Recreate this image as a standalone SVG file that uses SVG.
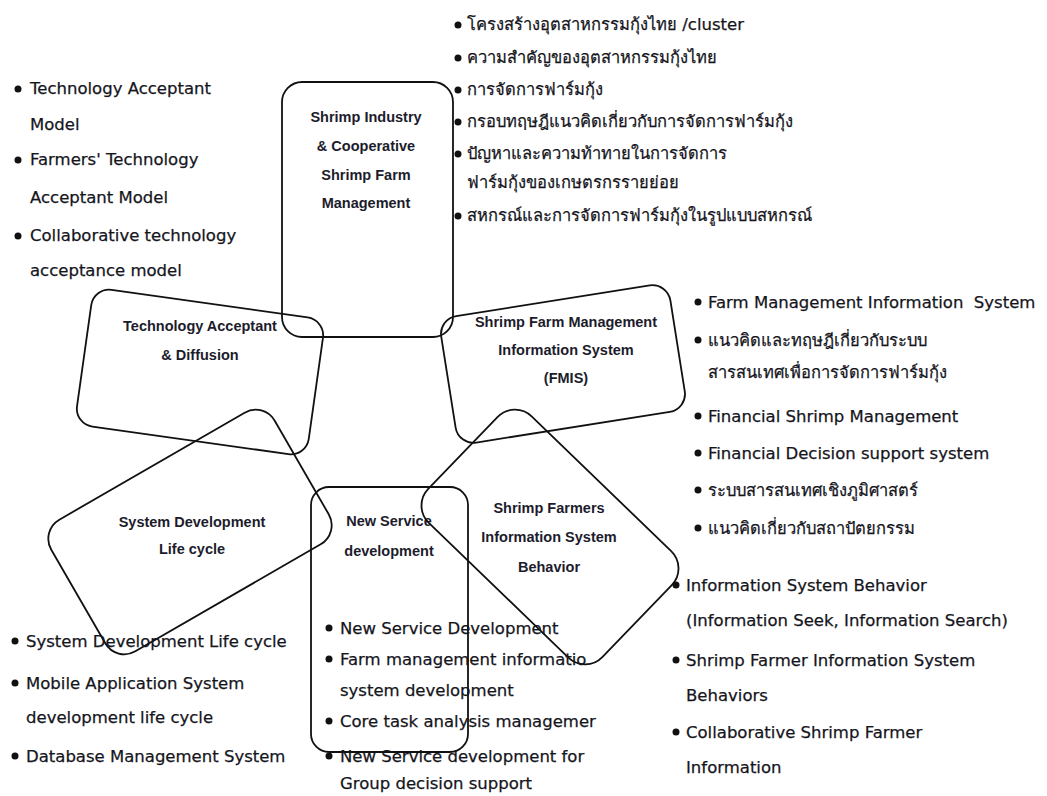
<svg xmlns="http://www.w3.org/2000/svg" width="1047" height="796" viewBox="0 0 1047 796">
  <style>
    .shape { fill: none; stroke: #111; stroke-width: 1.8; }
    .lbl { font-family: "Liberation Sans", Arial, sans-serif; font-weight: bold; font-size: 14.5px; fill: #1c1c2c; text-anchor: middle; }
    .item { font-family: "DejaVu Sans", "Noto Sans", sans-serif; font-size: 16.5px; fill: #15151c; stroke: #15151c; stroke-width: 0.25; white-space: pre; }
    .dot { fill: #111; }
  </style>
  <rect width="1047" height="796" fill="#ffffff"/>

  <!-- topic boxes -->
  <g id="node-industry">
    <rect class="shape" x="282" y="82" width="171" height="255" rx="20"/>
    <text class="lbl" x="366" y="122">Shrimp Industry</text>
    <text class="lbl" x="366" y="151">&amp; Cooperative</text>
    <text class="lbl" x="366" y="180">Shrimp Farm</text>
    <text class="lbl" x="366" y="208">Management</text>
  </g>

  <g id="node-tech-acceptance">
    <rect class="shape" x="-117" y="-69" width="234" height="138" rx="18" transform="translate(200,372) rotate(8)"/>
    <text class="lbl" x="200" y="331">Technology Acceptant</text>
    <text class="lbl" x="200" y="360">&amp; Diffusion</text>
  </g>

  <g id="node-fmis">
    <rect class="shape" x="-116" y="-64" width="232" height="128" rx="18" transform="translate(563,364) rotate(-9)"/>
    <text class="lbl" x="566" y="327">Shrimp Farm Management</text>
    <text class="lbl" x="566" y="355">Information System</text>
    <text class="lbl" x="566" y="383">(FMIS)</text>
  </g>

  <g id="node-sdlc">
    <rect class="shape" x="-129" y="-76" width="258" height="152" rx="22" transform="translate(190,532) rotate(-30)"/>
    <text class="lbl" x="192" y="527">System Development</text>
    <text class="lbl" x="192" y="554">Life cycle</text>
  </g>

  <g id="node-new-service">
    <rect class="shape" x="311" y="487" width="157" height="265" rx="18"/>
    <text class="lbl" x="389" y="526">New Service</text>
    <text class="lbl" x="389" y="556">development</text>
  </g>

  <g id="node-farmer-behavior">
    <rect class="shape" x="-121" y="-74" width="242" height="148" rx="24" transform="translate(550,537) rotate(44)"/>
    <text class="lbl" x="549" y="513">Shrimp Farmers</text>
    <text class="lbl" x="549" y="542">Information System</text>
    <text class="lbl" x="549" y="572">Behavior</text>
  </g>

  <g id="connectors"/>

  <!-- topic lists -->
  <g id="list-industry">
    <circle class="dot" cx="458" cy="25" r="3.5"/>
    <text class="item" x="467" y="30">โครงสร้างอุตสาหกรรมกุ้งไทย /cluster</text>
    <circle class="dot" cx="458" cy="58" r="3.5"/>
    <text class="item" x="467" y="63">ความสำคัญของอุตสาหกรรมกุ้งไทย</text>
    <circle class="dot" cx="458" cy="90" r="3.5"/>
    <text class="item" x="467" y="95">การจัดการฟาร์มกุ้ง</text>
    <circle class="dot" cx="458" cy="122" r="3.5"/>
    <text class="item" x="467" y="127">กรอบทฤษฎีแนวคิดเกี่ยวกับการจัดการฟาร์มกุ้ง</text>
    <circle class="dot" cx="458" cy="154" r="3.5"/>
    <text class="item" x="467" y="159">ปัญหาและความท้าทายในการจัดการ</text>
    <text class="item" x="467" y="188">ฟาร์มกุ้งของเกษตรกรรายย่อย</text>
    <circle class="dot" cx="458" cy="216" r="3.5"/>
    <text class="item" x="467" y="221">สหกรณ์และการจัดการฟาร์มกุ้งในรูปแบบสหกรณ์</text>
  </g>

  <g id="list-tech-acceptance">
    <circle class="dot" cx="18" cy="89" r="3.5"/>
    <text class="item" x="30" y="94">Technology Acceptant</text>
    <text class="item" x="30" y="130">Model</text>
    <circle class="dot" cx="18" cy="160" r="3.5"/>
    <text class="item" x="30" y="165">Farmers' Technology</text>
    <text class="item" x="30" y="203">Acceptant Model</text>
    <circle class="dot" cx="18" cy="236" r="3.5"/>
    <text class="item" x="30" y="241">Collaborative technology</text>
    <text class="item" x="30" y="276">acceptance model</text>
  </g>

  <g id="list-fmis">
    <circle class="dot" cx="698" cy="302" r="3.5"/>
    <text class="item" x="708" y="308">Farm Management Information  System</text>
    <circle class="dot" cx="698" cy="340" r="3.5"/>
    <text class="item" x="708" y="346">แนวคิดและทฤษฎีเกี่ยวกับระบบ</text>
    <text class="item" x="708" y="378">สารสนเทศเพื่อการจัดการฟาร์มกุ้ง</text>
    <circle class="dot" cx="698" cy="416" r="3.5"/>
    <text class="item" x="708" y="422">Financial Shrimp Management</text>
    <circle class="dot" cx="698" cy="453" r="3.5"/>
    <text class="item" x="708" y="459">Financial Decision support system</text>
    <circle class="dot" cx="698" cy="490" r="3.5"/>
    <text class="item" x="708" y="496">ระบบสารสนเทศเชิงภูมิศาสตร์</text>
    <circle class="dot" cx="698" cy="528" r="3.5"/>
    <text class="item" x="708" y="534">แนวคิดเกี่ยวกับสถาปัตยกรรม</text>
  </g>

  <g id="list-farmer-behavior">
    <circle class="dot" cx="676" cy="585" r="3.5"/>
    <text class="item" x="686" y="591">Information System Behavior</text>
    <text class="item" x="686" y="626">(Information Seek, Information Search)</text>
    <circle class="dot" cx="676" cy="660" r="3.5"/>
    <text class="item" x="686" y="666">Shrimp Farmer Information System</text>
    <text class="item" x="686" y="701">Behaviors</text>
    <circle class="dot" cx="676" cy="732" r="3.5"/>
    <text class="item" x="686" y="738">Collaborative Shrimp Farmer</text>
    <text class="item" x="686" y="773">Information</text>
  </g>

  <g id="list-sdlc">
    <circle class="dot" cx="15" cy="641" r="3.5"/>
    <text class="item" x="26" y="647">System Development Life cycle</text>
    <circle class="dot" cx="15" cy="683" r="3.5"/>
    <text class="item" x="26" y="689">Mobile Application System</text>
    <text class="item" x="26" y="723">development life cycle</text>
    <circle class="dot" cx="15" cy="756" r="3.5"/>
    <text class="item" x="26" y="762">Database Management System</text>
  </g>

  <g id="list-new-service">
    <circle class="dot" cx="329" cy="628" r="3.5"/>
    <text class="item" x="340" y="634">New Service Development</text>
    <circle class="dot" cx="329" cy="659" r="3.5"/>
    <text class="item" x="340" y="665">Farm management informatio</text>
    <text class="item" x="340" y="696">system development</text>
    <circle class="dot" cx="329" cy="721" r="3.5"/>
    <text class="item" x="340" y="727">Core task analysis managemer</text>
    <circle class="dot" cx="329" cy="756" r="3.5"/>
    <text class="item" x="340" y="762">New Service development for</text>
    <text class="item" x="340" y="789">Group decision support</text>
  </g>
</svg>
